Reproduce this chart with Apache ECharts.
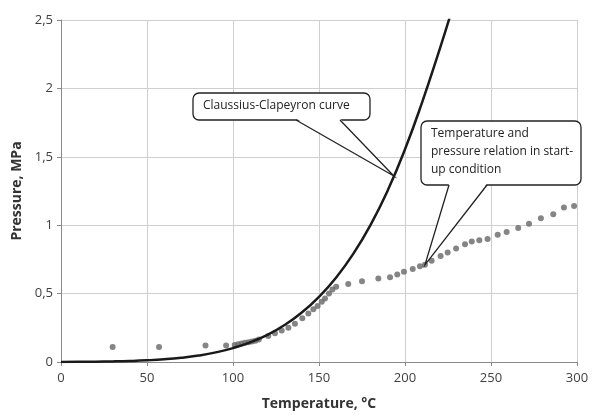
<!DOCTYPE html>
<html>
<head>
<meta charset="utf-8">
<script src="https://cdn.jsdelivr.net/npm/echarts@6/dist/echarts.min.js"></script>
<style>
html,body{margin:0;padding:0;background:#fff;}
#main{width:594px;height:416px;}
</style>
</head>
<body>
<div id="main"></div>
<script>
// Claussius-Clapeyron curve (temperature °C, pressure MPa)
var curveT = [0, 10, 20, 30, 40, 50, 60, 70, 80, 90, 100, 110, 120, 130, 140, 150, 160, 170, 180, 190, 200, 210, 220, 226];
var curveP = [0.0006, 0.0012, 0.0023, 0.0042, 0.0074, 0.0124, 0.0199, 0.0312, 0.0474, 0.0702, 0.1014, 0.1434, 0.1987, 0.2703, 0.3615, 0.4762, 0.6182, 0.7922, 1.0028, 1.2552, 1.5549, 1.9, 2.28, 2.52];
// measured start-up points
var startT = [30, 57, 84, 96, 101, 103, 105, 107, 109, 111, 113, 115, 120.5, 124.4, 128.3, 132.2, 136, 140.3, 143.8, 146.7, 149.2, 151.6, 153.5, 155.8, 157.8,
  160, 167, 175, 184.5, 191.3, 195.5, 199.4, 204.5, 208.7, 211.6, 215.5, 220.7, 224.8, 229.7, 234.9, 238.8, 243.2, 248, 253.9, 259.1, 265.8, 272.1, 279, 286.2, 292.4, 298.3];
var startP = [0.11, 0.11, 0.12, 0.12, 0.125, 0.13, 0.135, 0.14, 0.145, 0.15, 0.155, 0.165, 0.19, 0.21, 0.23, 0.25, 0.28, 0.32, 0.355, 0.385, 0.41, 0.44, 0.465, 0.50, 0.53,
  0.55, 0.57, 0.59, 0.61, 0.62, 0.64, 0.66, 0.68, 0.70, 0.71, 0.74, 0.775, 0.80, 0.83, 0.86, 0.88, 0.89, 0.90, 0.93, 0.95, 0.98, 1.01, 1.05, 1.08, 1.13, 1.14];
var xTicks = [0, 50, 100, 150, 200, 250, 300];
var yTicks = [0, 0.5, 1, 1.5, 2, 2.5];

var chart = echarts.init(document.getElementById('main'));
var fontFam = '"Open Sans", "Liberation Sans", sans-serif';

var option = {
    backgroundColor: '#fff',
    animation: false,
    grid: {left: 61, right: 17, top: 20, bottom: 54},
    xAxis: {
        type: 'value',
        min: xTicks[0], max: xTicks[xTicks.length - 1], interval: 50,
        name: 'Temperature, °C',
        nameLocation: 'middle',
        nameGap: 35,
        nameTextStyle: {fontFamily: fontFam, fontWeight: 'bold', fontSize: 14, color: '#333'},
        axisLine: {lineStyle: {color: '#8a8a8a'}},
        axisTick: {show: true, length: 4, lineStyle: {color: '#8a8a8a'}},
        axisLabel: {fontFamily: fontFam, fontSize: 13, color: '#404040', margin: 10},
        splitLine: {show: true, lineStyle: {color: '#cfcfcf'}}
    },
    yAxis: {
        type: 'value',
        min: yTicks[0], max: yTicks[yTicks.length - 1], interval: 0.5,
        name: 'Pressure, MPa',
        nameLocation: 'middle',
        nameGap: 37,
        nameTextStyle: {fontFamily: fontFam, fontWeight: 'bold', fontSize: 14, color: '#333'},
        axisLine: {show: true, lineStyle: {color: '#8a8a8a'}},
        axisTick: {show: true, length: 4, lineStyle: {color: '#8a8a8a'}},
        axisLabel: {
            fontFamily: fontFam, fontSize: 13, color: '#404040', margin: 8,
            formatter: function (v) { return String(v).replace('.', ','); }
        },
        splitLine: {show: true, lineStyle: {color: '#cfcfcf'}}
    },
    series: [
        {
            name: 'start-up',
            type: 'scatter',
            symbol: 'circle',
            symbolSize: 6,
            itemStyle: {color: '#666'},
            data: startT.map(function (t, i) { return [t, startP[i]]; }),
            z: 2
        },
        {
            name: 'Claussius-Clapeyron',
            type: 'line',
            smooth: true,
            showSymbol: false,
            clip: true,
            lineStyle: {color: '#1a1a1a', width: 2.5},
            data: curveT.map(function (t, i) { return [t, curveP[i]]; }),
            z: 3
        }
    ]
};
chart.setOption(option);

// callouts: pointer tips anchored to data positions
function callout(box, lines, base1, base2, tipData) {
    var tip = chart.convertToPixel({gridIndex: 0}, tipData);
    var els = [];
    els.push({
        type: 'rect', shape: {x: box[0], y: box[1], width: box[2], height: box[3], r: 6},
        style: {fill: '#fff', stroke: '#222', lineWidth: 1.3}, z: 10
    });
    els.push({
        type: 'polygon', shape: {points: [[base1, box[1] + box[3] - 1.5], tip, [base2, box[1] + box[3] - 1.5]]},
        style: {fill: '#fff', stroke: null}, z: 11
    });
    els.push({
        type: 'polyline', shape: {points: [[base1, box[1] + box[3]], tip, [base2, box[1] + box[3]]]},
        style: {fill: null, stroke: '#222', lineWidth: 1.3}, z: 12
    });
    lines.forEach(function (s, i) {
        els.push({
            type: 'text', x: box[0] + 10, y: box[1] + 7 + i * 18,
            style: {text: s, fontFamily: fontFam, fontSize: 12, fill: '#222'}, z: 13
        });
    });
    return els;
}

var g = [];
g = g.concat(callout([193, 93, 177, 27], ['Claussius-Clapeyron curve'], 296, 340, [193.5, 1.36]));
g = g.concat(callout([421, 121, 160, 64], ['Temperature and', 'pressure relation in start-', 'up condition'], 449, 487, [211.6, 0.71]));
chart.setOption({graphic: g});
</script>
</body>
</html>
